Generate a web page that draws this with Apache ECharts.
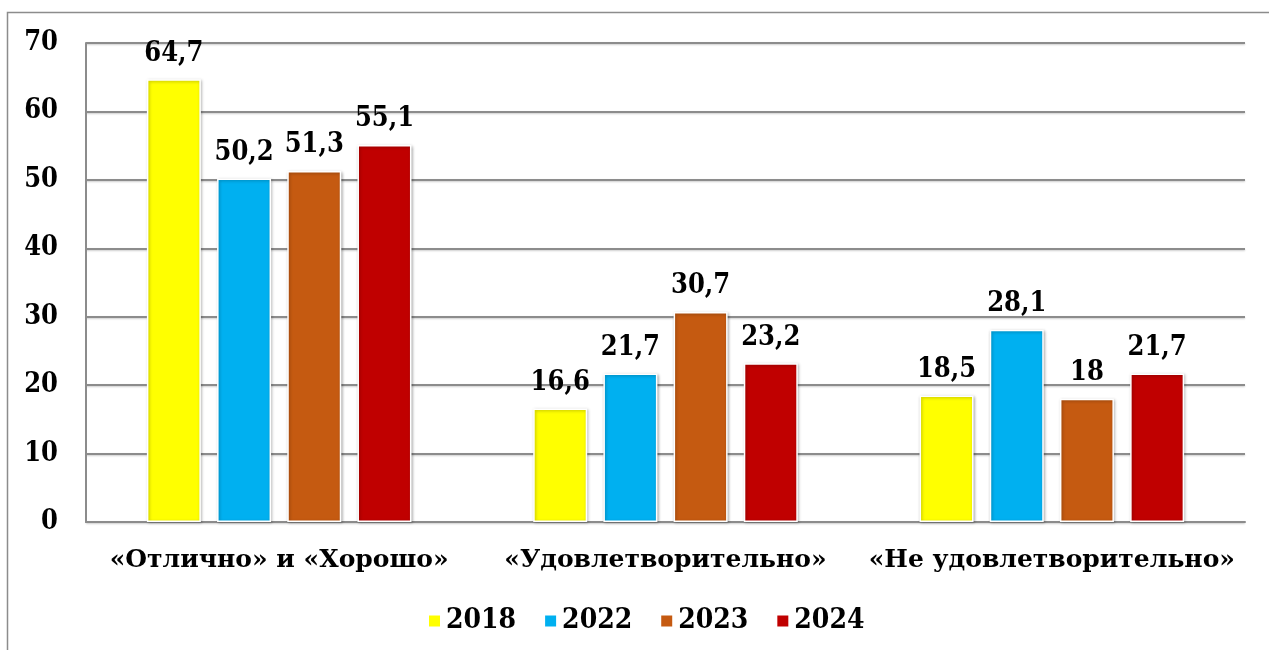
<!DOCTYPE html>
<html>
<head>
<meta charset="utf-8">
<script src="https://cdn.jsdelivr.net/npm/echarts@6/dist/echarts.min.js"></script>
<style>
  html, body { margin: 0; padding: 0; background: #fff; }
  #content { width: 1269px; height: 650px; }
</style>
</head>
<body>
<div id="content"></div>
<script>
var categories = ['«Отлично» и «Хорошо»', '«Удовлетворительно»', '«Не удовлетворительно»'];
var years = ['2018', '2022', '2023', '2024'];
var values2018 = [64.7, 16.6, 18.5];
var values2022 = [50.2, 21.7, 28.1];
var values2023 = [51.3, 30.7, 18];
var values2024 = [55.1, 23.2, 21.7];
var colors = ['#FFFF00', '#00B0F0', '#C55A11', '#C00000'];

var font = '"DejaVu Serif Condensed", "DejaVu Serif", serif';
var catFont = '"DejaVu Serif", serif';

var element = document.getElementById('content');
var myChart = echarts.init(element);

function makeSeries(name, data, color) {
    return {
        name: name,
        type: 'bar',
        data: data,
        barWidth: 54,
        barGap: '30%',
        itemStyle: {
            color: color,
            borderColor: '#fff',
            borderWidth: 1.5,
            shadowColor: 'rgba(0,0,0,0.3)',
            shadowBlur: 3,
            shadowOffsetX: 1,
            shadowOffsetY: 1
        },
        label: {
            show: true,
            position: 'top',
            distance: 12,
            fontFamily: font,
            fontWeight: 'bold',
            fontSize: 27,
            color: '#000',
            formatter: function(p) {
                return String(p.value).replace('.', ',');
            }
        }
    };
}

var option = {
    animation: false,
    color: colors,
    grid: {
        left: 86,
        right: 24,
        top: 43,
        bottom: 128
    },
    legend: {
        data: years,
        left: 422,
        top: 602,
        itemWidth: 13,
        itemHeight: 13,
        itemGap: 27,
        icon: 'rect',
        textStyle: {
            fontFamily: font,
            fontWeight: 'bold',
            fontSize: 28,
            color: '#000'
        }
    },
    xAxis: {
        type: 'category',
        data: categories,
        axisTick: { show: false },
        axisLine: { lineStyle: { color: '#8c8c8c', width: 2 } },
        axisLabel: {
            interval: 0,
            margin: 26,
            fontFamily: catFont,
            fontWeight: 'bold',
            fontSize: 25,
            color: '#000'
        }
    },
    yAxis: {
        type: 'value',
        min: 0,
        max: 70,
        interval: 10,
        axisLine: { show: true, lineStyle: { color: '#8c8c8c', width: 2 } },
        axisTick: { show: false },
        axisLabel: {
            margin: 28,
            fontFamily: font,
            fontWeight: 'bold',
            fontSize: 27,
            color: '#000'
        },
        splitLine: {
            lineStyle: {
                color: '#8c8c8c',
                width: 2,
                shadowColor: 'rgba(0,0,0,0.2)',
                shadowBlur: 2,
                shadowOffsetY: 1
            }
        }
    },
    graphic: [{
        type: 'rect',
        shape: { x: 7.5, y: 12.5, width: 1400, height: 800 },
        style: { fill: 'none', stroke: '#8c8c8c', lineWidth: 1.5 },
        silent: true,
        z: -1
    }],
    series: [
        makeSeries(years[0], values2018, colors[0]),
        makeSeries(years[1], values2022, colors[1]),
        makeSeries(years[2], values2023, colors[2]),
        makeSeries(years[3], values2024, colors[3])
    ]
};
myChart.setOption(option);
</script>
</body>
</html>
